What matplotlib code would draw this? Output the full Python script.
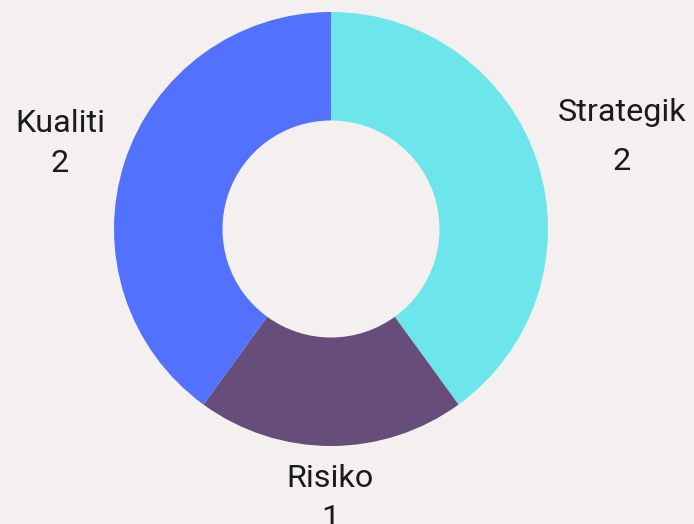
import matplotlib
matplotlib.use("Agg")
import matplotlib.pyplot as plt

categories = ["Strategik", "Risiko", "Kualiti"]
values = [2, 1, 2]
colors = ["#6ce6ea", "#674e7a", "#5271ff"]

W, H = 694, 524
cx, cy, R = 331, 229, 217

fig = plt.figure(figsize=(W / 100, H / 100), dpi=100)
bg = "#f4f0ef"
fig.patch.set_facecolor(bg)
ax = fig.add_axes([0, 0, 1, 1])
ax.set_facecolor(bg)
ax.axis("off")

ax.pie(values, colors=colors, startangle=90, counterclock=False,
       radius=1.0, wedgeprops=dict(width=0.5, edgecolor="none", linewidth=0))
ax.set_xlim(-cx / R, (W - cx) / R)
ax.set_ylim(-(H - cy) / R, cy / R)
ax.set_aspect("equal")

def px(x, y):
    return (x - cx) / R, (cy - y) / R

# label positions (name baseline, value baseline) in pixel coords
label_pos = {
    "Strategik": ((622, 121), (622, 170)),
    "Risiko": ((330, 487), (330, 527)),
    "Kualiti": ((60, 132), (60, 172)),
}
font = dict(family=["Roboto", "DejaVu Sans"], fontsize=23.3, color="#1a1a1a",
            ha="center", va="baseline")
for cat, val in zip(categories, values):
    (nx, ny), (vx, vy) = label_pos[cat]
    ax.text(*px(nx, ny), cat, **font)
    ax.text(*px(vx, vy), str(val), **font)

fig.savefig("out.png", dpi=100, facecolor=bg)
